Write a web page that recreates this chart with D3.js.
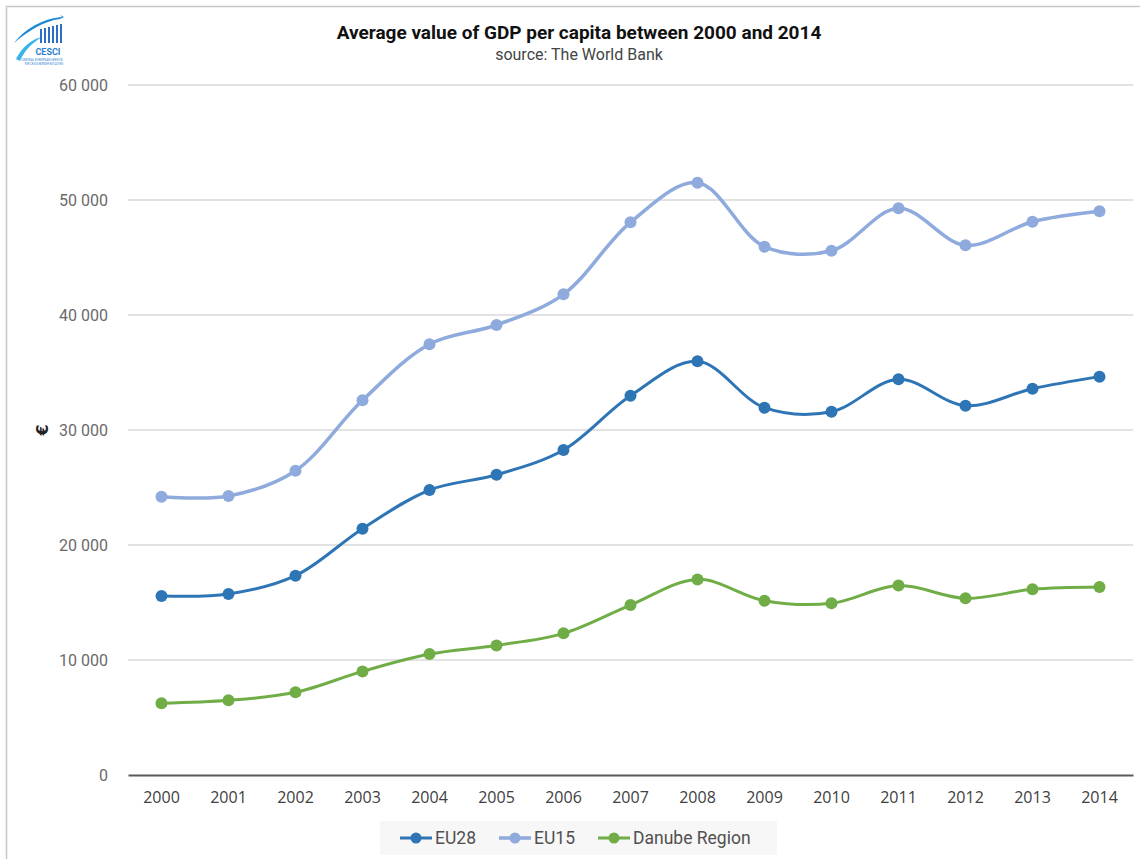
<!DOCTYPE html>
<html>
<head>
<meta charset="utf-8">
<script src="https://cdn.jsdelivr.net/npm/d3@7"></script>
<style>
  body { margin: 0; background: #fff; }
  svg { display: block; }
</style>
</head>
<body>
<div id="chart"></div>
<script>
// categories and series
var years = ["2000", "2001", "2002", "2003", "2004", "2005", "2006", "2007",
             "2008", "2009", "2010", "2011", "2012", "2013", "2014"]
var eu28 = [15570, 15740, 17330, 21420, 24780, 26110, 28260, 32980,
            35970, 31940, 31590, 34410, 32110, 33590, 34640]
var eu15 = [24200, 24260, 26460, 32580, 37460, 39130, 41800, 48060,
            51500, 45940, 45590, 49280, 46060, 48110, 49020]
var danube = [6230, 6490, 7190, 9010, 10520, 11270, 12320, 14780,
              17010, 15160, 14930, 16470, 15360, 16150, 16350]
var seriesNames = ["EU28", "EU15", "Danube Region"]
var yTicks = [0, 10000, 20000, 30000, 40000, 50000, 60000]

var colors = { "EU28": "#2e75b6", "EU15": "#8faadc", "Danube Region": "#70ad47" }
var widths = { "EU28": 3, "EU15": 3.5, "Danube Region": 3 }

var w = 1140
var h = 859
var plotLeft = 128, plotRight = 1133, plotTop = 85, plotBottom = 775

var svg = d3.select("#chart").append("svg")
    .attr("width", w).attr("height", h)

// outer frame (runs off the right and bottom edge)
svg.append("rect")
    .attr("x", 6.5).attr("y", 6.5)
    .attr("width", w + 20).attr("height", h + 20)
    .attr("fill", "#fff")
    .attr("stroke", "#c8c8c8")
    .attr("stroke-width", 1.5)

var xScale = d3.scaleBand().domain(years).range([plotLeft, plotRight])
var yScale = d3.scaleLinear().domain([0, 60000]).range([plotBottom, plotTop])

// gridlines
svg.append("g")
    .selectAll("line")
    .data(yTicks.filter(function(d) { return d > 0 }))
    .enter().append("line")
    .attr("x1", plotLeft).attr("x2", plotRight)
    .attr("y1", function(d) { return yScale(d) })
    .attr("y2", function(d) { return yScale(d) })
    .attr("stroke", "#d9d9d9")
    .attr("stroke-width", 1.5)

// y axis labels
var fmt = function(d) { return d3.format(",")(d).replace(/,/g, " ") }
var yAxis = d3.axisLeft(yScale).tickValues(yTicks).tickFormat(fmt).tickSize(0).tickPadding(20)
var yg = svg.append("g")
    .attr("transform", "translate(" + plotLeft + ",0)")
    .call(yAxis)
yg.select(".domain").remove()
yg.selectAll("text")
    .attr("font-family", "Roboto, sans-serif")
    .attr("font-size", "16px")
    .attr("fill", "#6a6a6a")

// x axis
var xAxis = d3.axisBottom(xScale).tickSize(0).tickPadding(17)
var xg = svg.append("g")
    .attr("transform", "translate(0," + plotBottom + ")")
    .call(xAxis)
xg.select(".domain").attr("stroke", "#595959").attr("stroke-width", 2)
xg.selectAll("text")
    .attr("font-family", "'Open Sans', sans-serif")
    .attr("font-size", "16px")
    .attr("fill", "#404040")

// y axis title
svg.append("text")
    .attr("text-anchor", "middle")
    .attr("transform", "translate(48," + yScale(30000) + ") rotate(-90)")
    .attr("font-family", "'DejaVu Sans', sans-serif")
    .attr("font-weight", "bold")
    .attr("font-size", "16px")
    .attr("fill", "#222")
    .text("€")

// title
svg.append("text")
    .attr("x", 579).attr("y", 39)
    .attr("text-anchor", "middle")
    .attr("font-family", "Roboto, sans-serif")
    .attr("font-weight", "bold")
    .attr("font-size", "19px")
    .attr("fill", "#111")
    .text("Average value of GDP per capita between 2000 and 2014")

svg.append("text")
    .attr("x", 579).attr("y", 60)
    .attr("text-anchor", "middle")
    .attr("font-family", "Roboto, sans-serif")
    .attr("font-size", "16px")
    .attr("fill", "#444")
    .text("source: The World Bank")

// series
var series = [
    { name: "EU15", values: eu15 },
    { name: "EU28", values: eu28 },
    { name: "Danube Region", values: danube }
]
var line = d3.line()
    .x(function(d, i) { return xScale(years[i]) + xScale.bandwidth() / 2 })
    .y(function(d) { return yScale(d) })
    .curve(d3.curveCatmullRom.alpha(0.5))

series.forEach(function(s) {
    var g = svg.append("g")
    g.append("path")
        .datum(s.values)
        .attr("d", line)
        .attr("fill", "none")
        .attr("stroke", colors[s.name])
        .attr("stroke-width", widths[s.name])
    g.selectAll("circle")
        .data(s.values)
        .enter().append("circle")
        .attr("cx", function(d, i) { return xScale(years[i]) + xScale.bandwidth() / 2 })
        .attr("cy", function(d) { return yScale(d) })
        .attr("r", 6)
        .attr("fill", colors[s.name])
})

// legend
var legend = svg.append("g")
legend.append("rect")
    .attr("x", 380).attr("y", 821)
    .attr("width", 397).attr("height", 34)
    .attr("fill", "#f7f7f7")
var legendX = [400, 499, 598]
seriesNames.forEach(function(name, i) {
    var lx = legendX[i]
    legend.append("line")
        .attr("x1", lx).attr("x2", lx + 32)
        .attr("y1", 838).attr("y2", 838)
        .attr("stroke", colors[name])
        .attr("stroke-width", widths[name])
    legend.append("circle")
        .attr("cx", lx + 16).attr("cy", 838).attr("r", 5.5)
        .attr("fill", colors[name])
    legend.append("text")
        .attr("x", lx + 35).attr("y", 844)
        .attr("font-family", "Roboto, sans-serif")
        .attr("font-size", "17.5px")
        .attr("fill", "#505050")
        .text(name)
})

// CESCI logo (rough)
var logo = svg.append("g").attr("transform", "translate(14,15)")
logo.append("path")
    .attr("d", "M0,28 C14,10 34,3 48,2 L46,0 L50,2 L46,4 C30,6 14,16 0,28 Z")
    .attr("fill", "#1e88d6")
logo.append("path")
    .attr("d", "M2,44 C8,32 18,24 28,22 C18,28 10,36 6,46 Z")
    .attr("fill", "#38b4ea")
var bars = [0, 1, 2, 3, 4, 5]
logo.selectAll("rect.bar")
    .data(bars)
    .enter().append("rect")
    .attr("x", function(d) { return 26 + d * 4 })
    .attr("y", function(d) { return 14 - d })
    .attr("width", 2)
    .attr("height", function(d) { return 14 + d })
    .attr("fill", "#2d6fc4")
logo.append("text")
    .attr("x", 34).attr("y", 40)
    .attr("text-anchor", "middle")
    .attr("font-family", "Roboto, sans-serif")
    .attr("font-weight", "bold")
    .attr("font-size", "9px")
    .attr("fill", "#2d7fd4")
    .text("CESCI")
logo.append("text")
    .attr("x", 28).attr("y", 46)
    .attr("text-anchor", "middle")
    .attr("font-family", "Roboto, sans-serif")
    .attr("font-size", "3px")
    .attr("fill", "#2d7fd4")
    .text("CENTRAL EUROPEAN SERVICE")
logo.append("text")
    .attr("x", 30).attr("y", 50)
    .attr("text-anchor", "middle")
    .attr("font-family", "Roboto, sans-serif")
    .attr("font-size", "2.6px")
    .attr("fill", "#2d7fd4")
    .text("FOR CROSS-BORDER INITIATIVES")
</script>
</body>
</html>
